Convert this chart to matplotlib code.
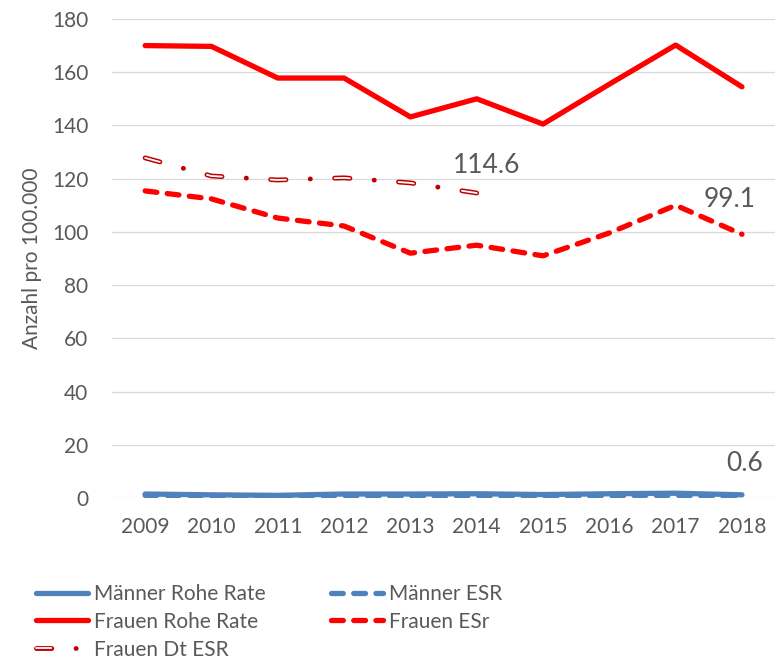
import numpy as np
import matplotlib.pyplot as plt

plt.rcParams['font.family'] = ['Lato', 'DejaVu Sans']
plt.rcParams['lines.scale_dashes'] = False

years = [2009, 2010, 2011, 2012, 2013, 2014, 2015, 2016, 2017, 2018]
maenner_rohe = [1.5, 1.2, 1.0, 1.5, 1.5, 1.6, 1.3, 1.6, 1.8, 1.2]
maenner_esr = [1.0, 0.9, 0.7, 0.9, 0.8, 0.9, 0.7, 0.9, 1.0, 0.6]
frauen_rohe = [170.0, 169.7, 157.8, 157.8, 143.2, 150.0, 140.5, 155.5, 170.2, 154.5]
frauen_esr = [115.4, 112.4, 105.2, 102.2, 92.0, 95.0, 91.0, 99.6, 110.0, 99.1]
dt_years = [2009, 2010, 2011, 2012, 2013, 2014]
frauen_dt_esr = [127.8, 121.0, 119.5, 120.3, 118.4, 114.6]

grey = '#595959'
blue = '#4F81BD'
red = '#FF0000'
darkred = '#C00000'

fig = plt.figure(figsize=(7.82, 6.59), dpi=100)
ax = fig.add_axes([0.1432, 0.2443, 0.848, 0.7269])

l1, = ax.plot(years, maenner_rohe, color=blue, lw=3.8, solid_capstyle='round',
              label='Männer Rohe Rate')
l2, = ax.plot(years, maenner_esr, color=blue, lw=3.8, dashes=(8.5, 7.5),
              dash_capstyle='round', label='Männer ESR')
l3, = ax.plot(years, frauen_rohe, color=red, lw=3.8, solid_capstyle='round',
              label='Frauen Rohe Rate')
l4, = ax.plot(years, frauen_esr, color=red, lw=3.8, dashes=(8.5, 7.5),
              dash_capstyle='round', label='Frauen ESr')
# outlined dash-dot line: dark red base with white inner dashes
l5, = ax.plot(dt_years, frauen_dt_esr, color=darkred, lw=3.5,
              dashes=(11, 17.5, 0.1, 17.5), dash_capstyle='round')
l6, = ax.plot(dt_years, frauen_dt_esr, color='white', lw=1.3,
              dashes=(11, 35.1), dash_capstyle='round')

ax.annotate('114.6', xy=(2014, 114.6), xytext=(7, 11), textcoords='offset points',
            ha='center', va='bottom', fontsize=19, color=grey)
ax.annotate('99.1', xy=(2018, 99.1), xytext=(-9, 16), textcoords='offset points',
            ha='center', va='bottom', fontsize=19, color=grey)
ax.annotate('0.6', xy=(2018, 0.6), xytext=(2, 15), textcoords='offset points',
            ha='center', va='bottom', fontsize=19, color=grey)

ax.set_xlim(2008.5, 2018.5)
ax.set_ylim(0, 180)
ax.set_xticks(years)
ax.set_yticks(np.arange(0, 181, 20))
ax.yaxis.grid(True, color='#D9D9D9', lw=0.9)
ax.set_axisbelow(True)
for s in ax.spines.values():
    s.set_visible(False)
ax.tick_params(length=0, labelsize=15, colors=grey)
ax.tick_params(axis='x', pad=14)
ax.tick_params(axis='y', pad=17)
ax.set_ylabel('Anzahl pro 100.000', fontsize=15, color=grey, labelpad=7)

fig.legend([l1, l3, (l5, l6), l2, l4],
           ['Männer Rohe Rate', 'Frauen Rohe Rate', 'Frauen Dt ESR',
            'Männer ESR', 'Frauen ESr'],
           ncol=2, loc='upper left', bbox_to_anchor=(0.046, 0.114),
           frameon=False, fontsize=15, labelcolor=grey, borderpad=0,
           borderaxespad=0, handlelength=2.5, handletextpad=0.3,
           columnspacing=3.1, labelspacing=0.38)

fig.savefig('out.png', dpi=100)
